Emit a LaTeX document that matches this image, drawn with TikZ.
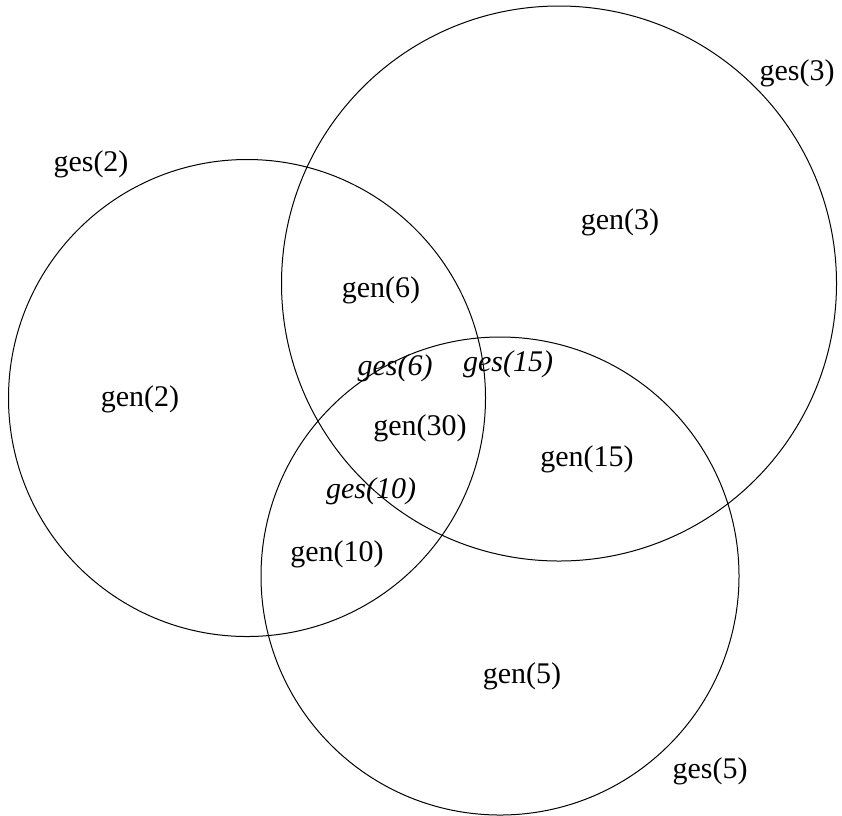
\documentclass[tikz,border=0pt]{standalone}
\usepackage{fontspec}
\setmainfont{Liberation Serif}
\usepackage{tikz}
\usetikzlibrary{positioning}

\begin{document}
\begin{tikzpicture}[x=1pt, y=-1pt,
  ring/.style={draw, circle, line width=1pt, inner sep=0pt},
  lbl/.style={font=\fontsize{30}{35}\selectfont, inner sep=0pt},
  cut/.style={lbl, font=\fontsize{30}{35}\selectfont\itshape}]
  \useasboundingbox (0,0) rectangle (842,815);
  % the three sets
  \node[ring, minimum size=477pt] (c2) at (247,398) {};
  \node[ring, minimum size=555pt] (c3) at (559,283.5) {};
  \node[ring, minimum size=478pt] (c5) at (500,576) {};
  % set names
  \node[lbl] (s2) at (91,164) {ges(2)};
  \node[lbl] (s3) at (797,73) {ges(3)};
  \node[lbl] (s5) at (710,771) {ges(5)};
  % regions
  \node[lbl] (g2) at (140,399) {gen(2)};
  \node[lbl] (g3) at (620,222) {gen(3)};
  \node[lbl] (g5) at (522,676) {gen(5)};
  \node[lbl] (g6) at (381,290) {gen(6)};
  \node[lbl] (g30) at (420,428) {gen(30)};
  \node[lbl] (g15) at (587,459) {gen(15)};
  \node[lbl] (g10) at (337,554) {gen(10)};
  % intersections
  \node[cut] (i6) at (395,368) {ges(6)};
  \node[cut] (i15) at (508,364) {ges(15)};
  \node[cut] (i10) at (371,491) {ges(10)};
\end{tikzpicture}
\end{document}
